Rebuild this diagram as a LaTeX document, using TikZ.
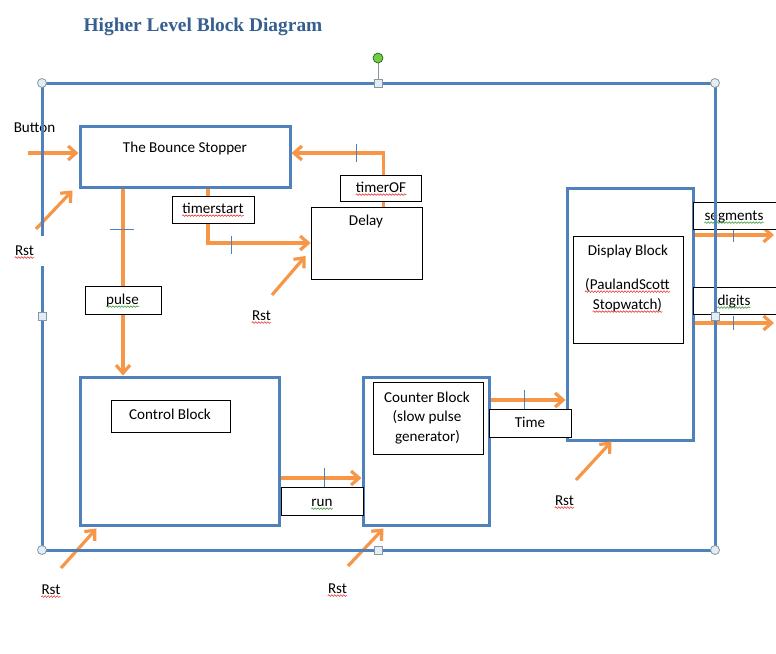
\documentclass[tikz,border=0pt]{standalone}
\usepackage{fontspec}
\setmainfont{Carlito}
\newfontfamily\titlefont{Liberation Serif}
\usetikzlibrary{positioning,arrows.meta,decorations.pathmorphing}
\definecolor{blockblue}{RGB}{79,129,189}
\definecolor{sigorange}{RGB}{247,150,70}
\definecolor{titleblue}{RGB}{54,95,145}
\definecolor{spellred}{RGB}{230,30,30}
\definecolor{spellgreen}{RGB}{40,150,40}
\definecolor{handlegray}{RGB}{140,150,160}
\definecolor{handlefill}{RGB}{225,238,248}
\definecolor{rotgreen}{RGB}{120,200,70}
\newcommand{\wfont}{\fontsize{15.1}{20}\selectfont}
\newcommand{\blk}[5]{% name, left, top, right, bottom   (blue block, thick rim)
  \node[blkbox,minimum width={(#4-#2)*1pt},minimum height={(#5-#3)*1pt}] (#1) at ({(#2+#4)/2},{(#3+#5)/2}) {};}
\newcommand{\lbox}[5]{% name, left, top, right, bottom   (thin box)
  \node[lblbox,minimum width={(#4-#2)*1pt},minimum height={(#5-#3)*1pt}] (#1) at ({(#2+#4)/2},{(#3+#5)/2}) {};}
\newcommand{\spl}[2]{% colour, text node   (wavy spelling mark)
  \draw[spell,#1] ([yshift=-2.6pt]#2.base west) -- ([yshift=-2.6pt]#2.base east);}
\newcommand{\hnd}[2]{\filldraw[handle] (#1,#2) circle[radius=4.5pt];}% round handle
\newcommand{\sqhnd}[2]{\filldraw[handle] (#1-4,#2-4) rectangle (#1+4,#2+4);}% square handle

\begin{document}
\begin{tikzpicture}[x=1pt,y=-1pt,
  blkbox/.style={draw=blockblue,line width=3pt,inner sep=0pt},
  lblbox/.style={draw,line width=0.9pt,fill=white,inner sep=0pt},
  txt/.style={font=\wfont,inner sep=0pt,anchor=base},
  sig/.style={draw=sigorange,line width=3.2pt,-{Straight Barb[length=8pt,width=14pt]}},
  tick/.style={draw=blockblue,line width=0.8pt},
  spell/.style={line width=0.5pt,decorate,decoration={snake,amplitude=0.8pt,segment length=3pt}},
  handle/.style={draw=handlegray,fill=handlefill,line width=0.8pt}]
  \fill[white] (0,0) rectangle (776,653);
  \useasboundingbox (0,0) rectangle (776,653);
  \clip (0,0) rectangle (776,653);
  \node[font=\titlefont\bfseries\fontsize{19.4}{23}\selectfont,text=titleblue,inner sep=0pt,anchor=base] (title) at (203,31) {Higher Level Block Diagram};
  % blocks
  \blk{bounce}{80}{126}{290}{187}
  \blk{display}{567}{188}{693}{440}
  \blk{control}{80}{377}{279}{525}
  \blk{counter}{363}{377}{489}{525}
  \lbox{delay}{311}{207}{422}{279}
  \lbox{dispin}{573}{236}{683}{343}
  \lbox{ctrlin}{111}{400}{230}{432}
  \lbox{cntin}{373}{382}{483}{454}
  % signals
  \coordinate (btnin) at (28,153);
  \draw[sig] (btnin) -- (btnin -| bounce.west);
  \draw[sig] ([xshift=44.5pt]bounce.south west) -- ([xshift=44.5pt]control.north west);
  \draw[sig] ([xshift=129.5pt]bounce.south west) |- (delay.west);
  \draw[sig] ([xshift=73pt]delay.north west) |- ([yshift=3.5pt]bounce.east);
  \draw[sig] ([yshift=-27pt]control.east) -- ([yshift=-27pt]counter.west);
  \draw[sig] ([yshift=51pt]counter.east) -- ([yshift=51pt]counter.east -| display.west);
  \coordinate (segout) at (774,235);
  \coordinate (digout) at (774,323);
  \draw[sig] (display.east |- segout) -- (segout);
  \draw[sig] (display.east |- digout) -- (digout);
  % resets
  \coordinate (rstA) at (36,229);
  \coordinate (rstB) at (272,295);
  \coordinate (rstC) at (61,568);
  \coordinate (rstD) at (348,566);
  \coordinate (rstE) at (576,480);
  \draw[sig] (rstA) -- ([shift={(-6,2)}]bounce.south west);
  \draw[sig] (rstB) -- ([shift={(-5,13)}]delay.west);
  \draw[sig] (rstC) -- ([shift={(18,2)}]control.south west);
  \draw[sig] (rstD) -- ([shift={(22,2)}]counter.south west);
  \draw[sig] (rstE) -- ([shift={(46,0)}]display.south west);
  % ticks
  \draw[tick] (110,229) -- (134,229);
  \draw[tick] (231,236) -- (231,254);
  \draw[tick] (356,144) -- (356,162);
  \draw[tick] (324,468) -- (324,487);
  \draw[tick] (524,390) -- (524,409);
  \draw[tick] (733,228) -- (733,242);
  \draw[tick] (733,316) -- (733,330);
  % signal name boxes
  \lbox{tof}{340}{175}{421}{201}
  \lbox{tst}{172}{196}{254}{223}
  \lbox{pls}{85}{286}{161}{314}
  \lbox{runl}{281}{487}{363}{515}
  \lbox{timel}{489}{409}{571}{437}
  \lbox{segl}{693}{202}{777}{229}
  \lbox{digl}{693}{287}{777}{314}
  % texts
  \node[txt] (toftxt) at (381,192) {timerOF};
  \node[txt] (tsttxt) at (213,213) {timerstart};
  \node[txt] (plstxt) at (122.5,304) {pulse};
  \node[txt] (runtxt) at (322,506) {run};
  \node[txt] (timetxt) at (530,427) {Time};
  \node[txt] (segtxt) at (734,220) {segments};
  \node[txt] (digtxt) at (734,305) {digits};
  \node[txt] (btntxt) at (34.5,132) {Button};
  \node[txt] (bouncetxt) at (185,152) {The Bounce Stopper};
  \node[txt] (delaytxt) at (366,225) {Delay};
  \node[txt] (ctrltxt) at (170,419) {Control Block};
  \node[txt] (cnttxt1) at (427,402) {Counter Block};
  \node[txt] (cnttxt2) at (427,421) {(slow pulse};
  \node[txt] (cnttxt3) at (427.5,441) {generator)};
  \node[txt] (disptxt1) at (628,255) {Display Block};
  \node[txt] (disptxt2) at (627.5,289) {(PaulandScott};
  \node[txt] (disptxt3) at (627.5,309) {Stopwatch)};
  \node[txt] (rst1) at (24.5,255) {Rst};
  \node[txt] (rst2) at (261.5,320) {Rst};
  \node[txt] (rst3) at (51,594) {Rst};
  \node[txt] (rst4) at (337.5,593) {Rst};
  \node[txt] (rst5) at (564.5,505) {Rst};
  % spelling marks
  \foreach \w in {toftxt,tsttxt,disptxt2,disptxt3,rst1,rst2,rst3,rst4,rst5} {\spl{spellred}{\w}}
  \foreach \w in {plstxt,runtxt,segtxt,digtxt} {\spl{spellgreen}{\w}}
  % frame with handles
  \draw[blockblue,line width=3pt] (42,236) -- (42,83) -- (715,83) -- (715,550) -- (42,550) -- (42,266);
  \draw[handlegray,line width=0.8pt] (378,63) -- (378,79);
  \filldraw[draw=green!40!black,fill=rotgreen,line width=0.6pt] (378,58) circle[radius=5pt];
  \foreach \hx/\hy in {42/83,715/83,42/550,715/550} {\hnd{\hx}{\hy}}
  \foreach \hx/\hy in {378/83,42/316,715/316,378/550} {\sqhnd{\hx}{\hy}}
\end{tikzpicture}
\end{document}
